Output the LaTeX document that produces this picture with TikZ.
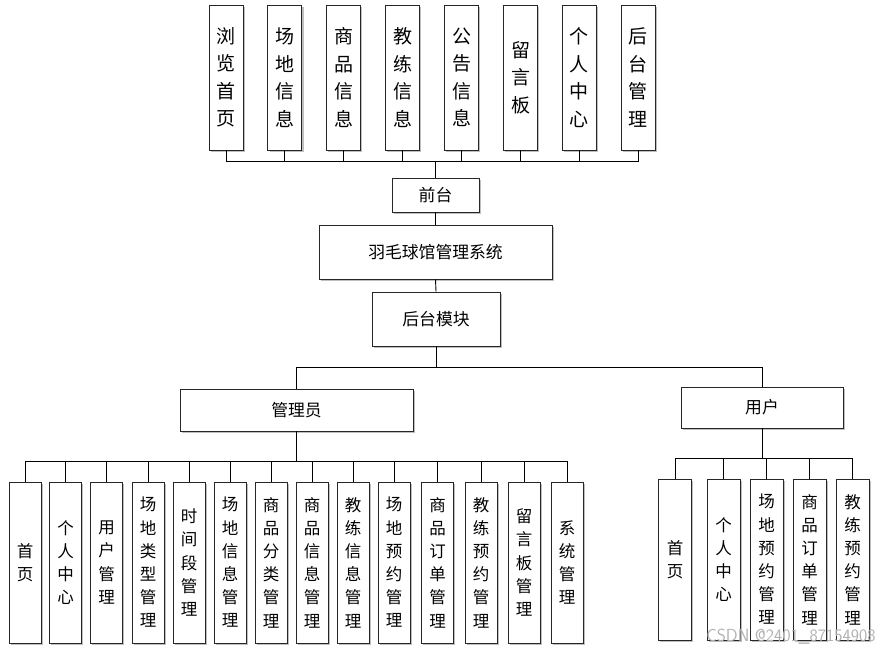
\documentclass[tikz,border=0pt]{standalone}
\usepackage{fontspec}
\newfontfamily\cjk{Noto Sans CJK SC}
\usetikzlibrary{shadows}
\tikzset{
  box/.style={draw=black!85, line width=0.9pt, fill=white, inner sep=0pt, align=center,
    general shadow={fill=black!25, shadow xshift=1.6pt, shadow yshift=-1.6pt}},
  topbox/.style={box, minimum width=34pt, minimum height=145pt, font=\cjk\fontsize{19}{27.5}\selectfont},
  leafbox/.style={box, minimum width=32pt, minimum height=161pt, font=\cjk\fontsize{16.5}{23.2}\selectfont},
  hbox/.style={box, font=\cjk\fontsize{16.8}{18}\selectfont},
  conn/.style={draw=black, line width=0.9pt},
}
\begin{document}
\begin{tikzpicture}[x=1pt,y=-1pt]
\useasboundingbox (0,0) rectangle (880,653);
% top row
\node[topbox] (t1) at (226,77.5) {浏\\览\\首\\页};
\node[topbox] (t2) at (284.9,77.5) {场\\地\\信\\息};
\node[topbox] (t3) at (343.8,77.5) {商\\品\\信\\息};
\node[topbox] (t4) at (402.7,77.5) {教\\练\\信\\息};
\node[topbox] (t5) at (461.6,77.5) {公\\告\\信\\息};
\node[topbox] (t6) at (520.5,77.5) {留\\言\\板};
\node[topbox] (t7) at (579.4,77.5) {个\\人\\中\\心};
\node[topbox] (t8) at (638.3,77.5) {后\\台\\管\\理};
% middle
\node[hbox, minimum width=87pt, minimum height=34pt] (qt) at (435.5,195) {前台};
\node[hbox, minimum width=233pt, minimum height=54pt] (sys) at (435.5,252) {羽毛球馆管理系统};
\node[hbox, minimum width=128pt, minimum height=54pt] (ht) at (436,319) {后台模块};
\node[hbox, minimum width=233pt, minimum height=42pt] (adm) at (296.5,410) {管理员};
\node[hbox, minimum width=162pt, minimum height=41pt] (usr) at (762,407.5) {用户};
% admin leaves
\node[leafbox] (a1) at (25,562.5) {首\\页};
\node[leafbox] (a2) at (65.7,562.5) {个\\人\\中\\心};
\node[leafbox] (a3) at (106.7,562.5) {用\\户\\管\\理};
\node[leafbox] (a4) at (148,562.5) {场\\地\\类\\型\\管\\理};
\node[leafbox] (a5) at (189,562.5) {时\\间\\段\\管\\理};
\node[leafbox] (a6) at (230,562.5) {场\\地\\信\\息\\管\\理};
\node[leafbox] (a7) at (271,562.5) {商\\品\\分\\类\\管\\理};
\node[leafbox] (a8) at (312,562.5) {商\\品\\信\\息\\管\\理};
\node[leafbox] (a9) at (353,562.5) {教\\练\\信\\息\\管\\理};
\node[leafbox] (a10) at (394,562.5) {场\\地\\预\\约\\管\\理};
\node[leafbox] (a11) at (437.5,562.5) {商\\品\\订\\单\\管\\理};
\node[leafbox] (a12) at (481,562.5) {教\\练\\预\\约\\管\\理};
\node[leafbox] (a13) at (524,562.5) {留\\言\\板\\管\\理};
\node[leafbox] (a14) at (567,562.5) {系\\统\\管\\理};
% user leaves
\node[leafbox, minimum width=33pt] (u1) at (675,559.5) {首\\页};
\node[leafbox, minimum width=33pt] (u2) at (723.5,559.5) {个\\人\\中\\心};
\node[leafbox, minimum width=33pt] (u3) at (766.5,559.5) {场\\地\\预\\约\\管\\理};
\node[leafbox, minimum width=33pt] (u4) at (809.5,559.5) {商\\品\\订\\单\\管\\理};
\node[leafbox, minimum width=33pt] (u5) at (852.5,559.5) {教\\练\\预\\约\\管\\理};
% bus coordinates
\coordinate (bt) at (435.5,161);
\coordinate (bm) at (436,367);
\coordinate (ba) at (296.5,461);
\coordinate (bu) at (762,458);
% connectors
\draw[conn] (qt.north) -- (bt);
\foreach \i in {1,...,8} { \draw[conn] (bt) -| (t\i.south); }
\draw[conn] (qt.south) -- (sys.north);
\draw[conn] (sys.south) -- (ht.north);
\draw[conn] (ht.south) -- (bm);
\draw[conn] (bm) -| (adm.north);
\draw[conn] (bm) -| (usr.north);
\draw[conn] (adm.south) -- (ba);
\foreach \i in {1,...,14} { \draw[conn] (ba) -| (a\i.north); }
\draw[conn] (usr.south) -- (bu);
\foreach \i in {1,...,5} { \draw[conn] (bu) -| (u\i.north); }
% watermark
\node[text=black!30, font=\fontsize{17.5}{17.5}\selectfont\sffamily, anchor=east] (wm) at (879,637) {CSDN @2401\_87154908};
\end{tikzpicture}
\end{document}
